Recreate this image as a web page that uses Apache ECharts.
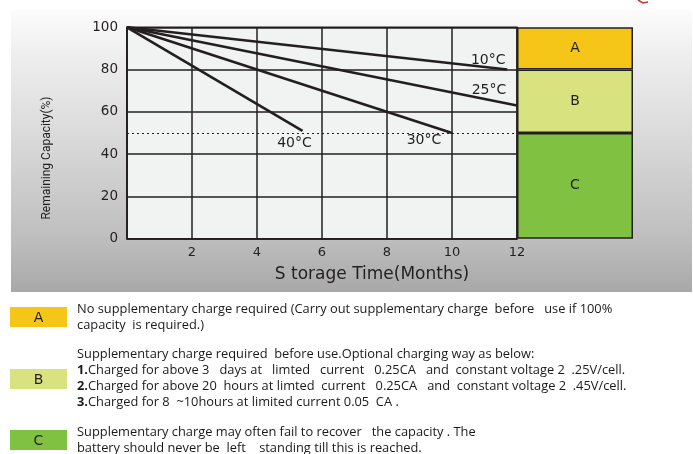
<!DOCTYPE html>
<html><head><meta charset="utf-8">
<script src="https://cdn.jsdelivr.net/npm/echarts@6/dist/echarts.min.js"></script>
<style>html,body{margin:0;padding:0;background:#fff}#c{width:693px;height:454px}</style>
</head><body><div id="c"></div>
<script>
// ---- data ----
const tempLabels = ['10°C', '25°C', '30°C', '40°C'];
const startMonth = 0;
const startCapacity = 100;
const endMonths = [11.7, 12, 10, 5.4];
const endCapacities = [80, 63, 50, 51];
const limitLine = 50;
const zoneNames = ['C', 'B', 'A'];
const zoneSizes = [50, 30, 20];
const xAxisName = 'S torage Time(Months)';
const yAxisName = 'Remaining Capacity(%)';
const noteA = ['No supplementary charge required (Carry out supplementary charge  before   use if 100%', 'capacity  is required.)'];
const noteB = ['Supplementary charge required  before use.Optional charging way as below:',
  '{b|1.}Charged for above 3   days at   limted   current   0.25CA   and  constant voltage 2  .25V/cell.',
  '{b|2.}Charged for above 20  hours at limted  current   0.25CA   and  constant voltage 2  .45V/cell.',
  '{b|3.}Charged for 8  ~10hours at limited current 0.05  CA .'];
const noteC = ['Supplementary charge may often fail to recover   the capacity . The', 'battery should never be  left    standing till this is reached.'];

// ---- styles ----
const ink = '#231f20';
const zoneColors = {A: '#f5c518', B: '#d8e27e', C: '#80c141'};
const labelOffsets = [[-19, -9], [-28, -15], [-28, 7], [-8, 12]];

const chart = echarts.init(document.getElementById('c'));
const lineSeries = tempLabels.map((t, i) => ({
  type: 'line', xAxisIndex: 0, yAxisIndex: 0, z: 5,
  showSymbol: true, symbolSize: 0, symbol: 'circle',
  lineStyle: {color: ink, width: 2.6}, itemStyle: {color: ink},
  silent: true, animation: false,
  data: [
    {value: [startMonth, startCapacity]},
    {value: [endMonths[i], endCapacities[i]], label: {
      show: true, formatter: t, position: 'inside', offset: labelOffsets[i],
      align: 'center', verticalAlign: 'middle',
      fontFamily: 'DejaVu Sans', fontSize: 14, color: ink
    }}
  ]
}));

const zoneSeries = zoneNames.map((z, i) => ({
  type: 'bar', stack: 'zones', xAxisIndex: 1, yAxisIndex: 1,
  barWidth: '100%', animation: false, silent: true,
  itemStyle: {color: zoneColors[z], borderColor: ink, borderWidth: 1.5},
  label: {show: true, position: 'inside', formatter: z, fontFamily: 'DejaVu Sans', fontSize: 14, color: ink},
  data: [zoneSizes[i]]
}));

const textFont = 'Open Sans';
const tSize = 12.85;
function noteText(lines, x, y, lh) {
  return {type: 'text', left: x, top: y, z: 10, style: {
    text: lines.join('\n'), fontFamily: textFont, fontSize: tSize, lineHeight: lh, fill: '#1a1a1a',
    rich: {b: {fontWeight: 'bold', fontFamily: textFont, fontSize: tSize, fill: '#1a1a1a', lineHeight: lh}}
  }};
}
function box(letter, y) {
  return [
    {type: 'rect', shape: {x: 10, y: y, width: 57, height: 20}, style: {fill: zoneColors[letter]}, z: 9},
    {type: 'text', x: 38.5, y: y + 11, z: 10, style: {text: letter, fontFamily: 'DejaVu Sans', fontSize: 14, fill: ink, align: 'center', verticalAlign: 'middle'}}
  ];
}

chart.setOption({
  animation: false,
  graphic: [
    {type: 'rect', z: -10, shape: {x: 11, y: 10, width: 681, height: 282},
      style: {fill: new echarts.graphic.LinearGradient(0, 0, 0, 1, [
        {offset: 0, color: '#fcfcfc'}, {offset: 0.15, color: '#efefef'},
        {offset: 0.5, color: '#d6d6d6'}, {offset: 0.8, color: '#bfbfbf'}, {offset: 1, color: '#a8a8a8'}])}},
    {type: 'polyline', shape: {points: [[638, 0], [643, 3], [648, 2]]}, style: {stroke: '#c0392b', lineWidth: 1.5, fill: null}},
    {type: 'text', x: 47, y: 158, rotation: Math.PI / 2, z: 10, style: {text: yAxisName, fontFamily: 'Roboto', fontSize: 12, fill: ink, align: 'center', verticalAlign: 'middle'}},
    noteText(noteA, 77, 301, 16),
    ...box('A', 307),
    noteText(noteB, 77, 346, 16),
    ...box('B', 369),
    noteText(noteC, 77, 424, 16),
    ...box('C', 430)
  ],
  grid: [
    {left: 127, top: 27.3, width: 390, height: 211.4, show: true, backgroundColor: '#f1f2f2', borderColor: ink, borderWidth: 1.5},
    {left: 517, top: 27.3, width: 116, height: 211.4}
  ],
  xAxis: [
    {type: 'value', gridIndex: 0, min: 0, max: 12, interval: 2,
      axisLine: {show: true, lineStyle: {color: ink, width: 1.5}}, axisTick: {show: false},
      splitLine: {show: true, lineStyle: {color: ink, width: 1.5}},
      axisLabel: {margin: 7, fontFamily: 'DejaVu Sans', fontSize: 13, color: ink, formatter: v => v === 0 ? '' : String(v)},
      name: xAxisName, nameLocation: 'middle', nameGap: 27,
      nameTextStyle: {fontFamily: 'DejaVu Sans', fontSize: 17, color: ink, padding: [0, 0, 0, 100]}},
    {type: 'category', gridIndex: 1, data: ['zone'], show: false}
  ],
  yAxis: [
    {type: 'value', gridIndex: 0, min: 0, max: 100, interval: 20,
      axisLine: {show: true, lineStyle: {color: ink, width: 1.5}}, axisTick: {show: false},
      splitLine: {show: true, lineStyle: {color: ink, width: 1.5}},
      axisLabel: {margin: 9, fontFamily: 'DejaVu Sans', fontSize: 13.5, color: ink}},
    {type: 'value', gridIndex: 1, min: 0, max: 100, show: false}
  ],
  series: [
    ...lineSeries,
    {type: 'line', xAxisIndex: 0, yAxisIndex: 0, data: [], silent: true,
      markLine: {symbol: 'none', silent: true, label: {show: false},
        lineStyle: {color: ink, type: [2, 3], width: 1.2}, data: [{yAxis: limitLine}]}},
    ...zoneSeries
  ]
});
</script></body></html>
